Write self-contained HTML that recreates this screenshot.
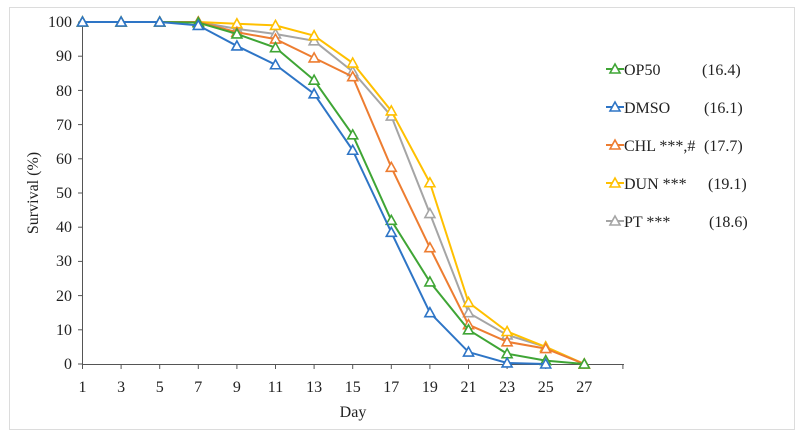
<!DOCTYPE html>
<html><head><meta charset="utf-8"><style>
html,body{margin:0;padding:0;background:#fff}
svg{display:block;font-family:"Liberation Serif",serif}
</style></head><body>
<svg id="c" width="800" height="439" viewBox="0 0 800 439" xmlns="http://www.w3.org/2000/svg">
<rect x="9.5" y="7.5" width="785" height="422" fill="#fff" stroke="#dcdcdc"/>
<g stroke="#555" stroke-width="1" fill="none">
<line x1="82.5" y1="22" x2="82.5" y2="364"/>
<line x1="82.5" y1="364.5" x2="624" y2="364.5"/>
</g>
<g id="ticks" stroke="#555"></g>
<g font-size="16" fill="#222" text-anchor="end">
<text x="72" y="27">100</text><text x="72" y="61">90</text><text x="72" y="96">80</text>
<text x="72" y="130">70</text><text x="72" y="164">60</text><text x="72" y="198">50</text>
<text x="72" y="232">40</text><text x="72" y="266">30</text><text x="72" y="301">20</text>
<text x="72" y="335">10</text><text x="72" y="369">0</text>
</g>
<g font-size="16" fill="#222" text-anchor="middle">
<text x="82.5" y="392">1</text><text x="121.1" y="392">3</text><text x="159.7" y="392">5</text>
<text x="198.3" y="392">7</text><text x="236.9" y="392">9</text><text x="275.5" y="392">11</text>
<text x="314.1" y="392">13</text><text x="352.7" y="392">15</text><text x="391.3" y="392">17</text>
<text x="429.9" y="392">19</text><text x="468.5" y="392">21</text><text x="507.1" y="392">23</text>
<text x="545.7" y="392">25</text><text x="584.3" y="392">27</text>
<text x="353" y="417">Day</text>
</g>
<text transform="translate(38,193) rotate(-90)" font-size="16" fill="#222" text-anchor="middle">Survival (%)</text>
<g id="series"></g>
<g id="leg"></g>
<g font-size="16" fill="#222">
<text x="624" y="75">OP50</text><text x="702" y="75">(16.4)</text>
<text x="624" y="113">DMSO</text><text x="704" y="113">(16.1)</text>
<text x="624" y="151">CHL ***,#</text><text x="704" y="151">(17.7)</text>
<text x="624" y="189">DUN  ***</text><text x="708" y="189">(19.1)</text>
<text x="624" y="227">PT ***</text><text x="709" y="227">(18.6)</text>
</g>
</svg>
<script>
var NS="http://www.w3.org/2000/svg";
function X(d){return 82.5+(d-1)*19.3}
function Y(v){return 364-v*3.42}
var t=document.getElementById('ticks');
for(var i=0;i<=10;i++){var l=document.createElementNS(NS,'line');l.setAttribute('x1',78);l.setAttribute('x2',82.5);l.setAttribute('y1',Y(i*10));l.setAttribute('y2',Y(i*10));t.appendChild(l);}
for(var d=1;d<=29;d+=2){var l=document.createElementNS(NS,'line');l.setAttribute('x1',X(d));l.setAttribute('x2',X(d));l.setAttribute('y1',364);l.setAttribute('y2',369);t.appendChild(l);}
var S=[
["#a5a5a5",[100,100,100,100,98,96.5,94.5,85.5,72.5,44,15,8.5,5,0]],
["#ffc000",[100,100,100,100,99.5,99,96,88,74,53,18,9.5,5,0]],
["#ed7d31",[100,100,100,100,97,95,89.5,84,57.5,34,11.5,6.5,4.5,0]],
["#3fa535",[100,100,100,99.8,96.5,92.5,83,67,42,24,10,3,1,0]],
["#2e75c6",[100,100,100,99,93,87.5,79,62.5,38.5,15,3.5,0.3,0]]
];
var g=document.getElementById('series');
function tri(x,y,c,par){var p=document.createElementNS(NS,'polygon');p.setAttribute('points',(x)+','+(y-5)+' '+(x-5)+','+(y+4)+' '+(x+5)+','+(y+4));p.setAttribute('fill','#fff');p.setAttribute('stroke',c);p.setAttribute('stroke-width','1.6');par.appendChild(p);}
for(var k=0;k<S.length;k++){var c=S[k][0],v=S[k][1],pts=[];
 for(var i=0;i<v.length;i++)pts.push(X(1+2*i)+','+Y(v[i]));
 var pl=document.createElementNS(NS,'polyline');pl.setAttribute('points',pts.join(' '));pl.setAttribute('fill','none');pl.setAttribute('stroke',c);pl.setAttribute('stroke-width','2');g.appendChild(pl);
 for(var i=0;i<v.length;i++)tri(X(1+2*i),Y(v[i]),c,g);}
var lg=document.getElementById('leg');
var lc=["#3fa535","#2e75c6","#ed7d31","#ffc000","#a5a5a5"];
for(var i=0;i<5;i++){var y=69+38*i;var l=document.createElementNS(NS,'line');l.setAttribute('x1',606);l.setAttribute('x2',624);l.setAttribute('y1',y);l.setAttribute('y2',y);l.setAttribute('stroke',lc[i]);l.setAttribute('stroke-width','2');lg.appendChild(l);tri(615,y,lc[i],lg);}
</script>
</body></html>
